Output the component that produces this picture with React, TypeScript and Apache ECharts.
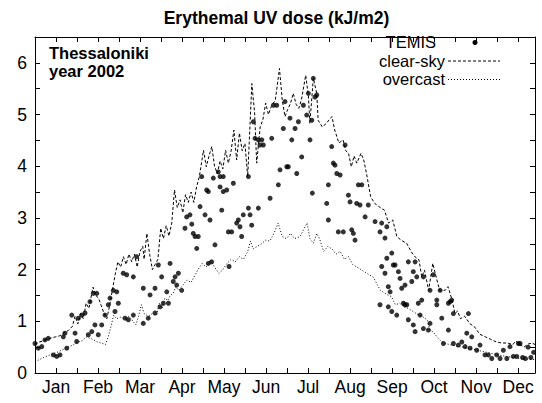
import React, { useEffect, useRef } from "react";
import * as echarts from "echarts";

// Month names used for the x-axis tick labels (shown at mid-month ticks)
const monthLabels = ["Jan", "Feb", "Mar", "Apr", "May", "Jun", "Jul", "Aug", "Sep", "Oct", "Nov", "Dec"];
// Y tick labels shown only at integers
const yTickValues = [0, 1, 2, 3, 4, 5, 6];

// [day of year, kJ/m2]
const clearSky: number[][] = [
  [0, 0.55], [3, 0.6], [6, 0.62], [9, 0.66], [12, 0.68], [15, 0.7], [18, 0.72], [21, 0.78], [24, 0.82], [27, 0.9],
  [29, 1.1], [31, 0.95], [33, 1.15], [35, 1.05], [37, 1.35], [39, 1.25], [42, 1.66], [44, 1.5], [46, 1.45], [48, 1.3],
  [50, 1.15], [52, 1.05], [54, 1.3], [56, 1.6], [58, 1.9], [60, 2.15], [62, 2.05], [64, 2.25], [66, 2.1], [68, 2.3],
  [70, 2.15], [72, 2.3], [74, 2.05], [76, 2.35], [78, 2.45], [79, 2.2], [81, 2.7], [83, 2.3], [85, 2.0], [87, 2.1],
  [89, 2.2], [91, 2.8], [93, 2.6], [95, 2.85], [97, 2.65], [99, 2.9], [101, 3.54], [103, 3.2], [105, 3.35], [107, 3.1],
  [109, 3.45], [111, 3.3], [113, 3.5], [115, 3.3], [117, 3.6], [119, 3.8], [122, 4.31], [124, 3.99], [126, 4.2], [128, 4.38],
  [130, 4.0], [132, 3.86], [134, 4.1], [136, 3.95], [138, 4.31], [140, 4.06], [142, 4.3], [144, 4.7], [146, 4.12], [148, 4.64],
  [150, 4.3], [152, 4.44], [154, 3.8], [157, 5.6], [159, 5.03], [160.5, 4.06], [163, 4.76], [165, 4.9], [167, 5.22], [169, 5.0],
  [171, 5.15], [174, 5.28], [177, 5.89], [179, 5.28], [181, 4.96], [183, 5.1], [185, 5.22], [187, 5.41], [189, 5.2], [191, 5.12],
  [193, 5.3], [196, 5.76], [198, 5.34], [199, 4.83], [201.5, 5.7], [204, 5.41], [205, 4.89], [208, 4.76], [211, 4.83], [213, 4.9],
  [215, 4.96], [217, 4.7], [220, 4.45], [223, 4.51], [225, 4.3], [227, 4.25], [229, 3.99], [231, 4.2], [233, 4.06], [236, 4.25],
  [238, 4.12], [240, 3.86], [243, 3.41], [246, 3.28], [250, 3.2], [253, 3.15], [256, 2.9], [259, 2.96], [262, 2.64], [265, 2.57],
  [269, 2.51], [273, 2.32], [275, 2.25], [278, 2.19], [280, 1.86], [282, 1.99], [285, 1.6], [288, 2.12], [291, 1.8], [293, 1.6],
  [297, 1.6], [299, 1.67], [302, 1.41], [304, 1.15], [306, 1.2], [308, 1.05], [311, 1.1], [315, 0.95], [318, 0.9], [322, 0.75],
  [326, 0.7], [330, 0.65], [334, 0.6], [338, 0.58], [342, 0.58], [346, 0.55], [348, 0.62], [351, 0.55], [354, 0.5], [357, 0.56],
  [360, 0.58], [362, 0.55],
];

const overcast: number[][] = [
  [0, 0.22], [4, 0.27], [8, 0.32], [12, 0.36], [16, 0.4], [20, 0.45], [24, 0.5], [28, 0.55], [31, 0.6], [34, 0.62],
  [37, 0.7], [39, 0.68], [42, 0.65], [45, 0.6], [48, 0.58], [51, 0.55], [53, 0.7], [55, 0.9], [57, 1.12], [59, 1.05],
  [62, 1.08], [65, 1.05], [68, 1.1], [71, 1.0], [73, 0.93], [75, 1.1], [77, 1.32], [79, 1.15], [82, 1.1], [85, 1.15],
  [88, 1.12], [90, 1.35], [92, 1.25], [94, 1.45], [96, 1.4], [98, 1.5], [100, 1.54], [102, 1.67], [104, 1.6], [107, 1.7],
  [110, 1.8], [113, 1.75], [116, 1.9], [118, 2.0], [121, 2.12], [124, 2.05], [127, 2.19], [130, 2.05], [133, 1.93], [136, 2.0],
  [139, 2.12], [142, 2.2], [145, 2.15], [148, 2.25], [151, 2.2], [154, 2.35], [156, 2.55], [158, 2.4], [161, 2.45], [164, 2.5],
  [167, 2.57], [170, 2.55], [173, 2.7], [176, 2.9], [179, 2.64], [182, 2.6], [185, 2.7], [188, 2.6], [192, 2.64], [194, 2.75],
  [197, 2.9], [199, 2.6], [201.5, 2.51], [204, 2.7], [206, 2.6], [209, 2.35], [212, 2.45], [215, 2.4], [218, 2.3], [221, 2.35],
  [224, 2.2], [227, 2.25], [230, 2.1], [233, 2.05], [236, 2.0], [239, 1.95], [242, 1.9], [245, 1.85], [248, 1.7], [250, 1.6],
  [253, 1.55], [256, 1.5], [258, 1.48], [261, 1.32], [264, 1.35], [267, 1.28], [270, 1.25], [272, 1.22], [276, 1.15], [280, 1.1],
  [284, 1.03], [286, 0.83], [288, 0.8], [291, 0.7], [294, 0.62], [296, 0.58], [300, 0.55], [305, 0.52], [310, 0.5], [317, 0.46],
  [322, 0.43], [327, 0.4], [332, 0.37], [337, 0.34], [342, 0.32], [346, 0.3], [351, 0.28], [356, 0.27], [362, 0.26],
];

const temis: number[][] = [
  [0, 0.57], [2.4, 0.48], [4.9, 0.51], [7.2, 0.64], [9.6, 0.67], [13.3, 0.35], [15.7, 0.32], [18.1, 0.35], [20.5, 0.7], [21.7, 0.77],
  [23, 0.48], [26.6, 1.12], [29, 0.77], [30.2, 0.61], [31.4, 1.06], [33.8, 1.12], [36.2, 1.16], [38.6, 0.74], [41.1, 0.8], [43.4, 0.93],
  [45.8, 0.74], [48.3, 0.93], [50.7, 1.12], [53.1, 1.32], [57.9, 1.19], [60.3, 1.35], [65.2, 1.06], [67.6, 1.03], [71.2, 1.12], [78.4, 0.96],
  [82, 1.06], [86.9, 1.16], [90.5, 1.28], [92.9, 1.35],
  [39.8, 1.38], [42.2, 1.54], [44.7, 1.54], [54.3, 1.45], [56.7, 1.6], [59.2, 1.57], [63.9, 1.93], [66.4, 1.9], [71.2, 1.86], [73.6, 2.25],
  [78.4, 1.64], [83.3, 1.51], [86.9, 1.64], [89.3, 2.09], [91.7, 1.86], [95.4, 1.57], [96.6, 1.35], [97.8, 2.12], [100.1, 1.77], [101.4, 1.86],
  [102.6, 1.7], [103.8, 1.93], [106.2, 1.6], [108.6, 2.8], [109.8, 3.02], [112.2, 3.06], [113.5, 2.88], [114.6, 2.7], [115.9, 2.64], [117.1, 2.41],
  [118.2, 2.64], [119.5, 3.22], [120.7, 3.8], [123.1, 3.06], [124.3, 3.54], [125.5, 2.12], [127.9, 2.15], [129.1, 3.77], [130.3, 2.48], [134, 3.6],
  [135.2, 3.15], [136.3, 3.51], [138.8, 3.54], [140, 2.73], [140.5, 2.06],
  [125.5, 3.51], [126.7, 2.96], [132.7, 3.89], [134, 3.8], [136.3, 3.8], [142.4, 2.73], [143.6, 3.67], [146, 2.9], [147.2, 2.96], [148.4, 2.83],
  [149.6, 2.64], [150.8, 3.06], [154.5, 3.8], [154.5, 3.19], [155.7, 3.06], [156.9, 2.86], [158.1, 4.86], [159.3, 4.54], [161.7, 4.51], [162.9, 4.41],
  [164.2, 4.51], [165.3, 4.41], [161.7, 3.19], [170.2, 3.38], [171.4, 4.54], [172.6, 5.18], [175, 5.18], [176.2, 3.64], [177.4, 3.93], [179.8, 4.73],
  [181, 5.25], [182.3, 3.99], [183.4, 3.99], [184.6, 4.93], [185.9, 4.51], [188.3, 4.73], [189.5, 3.86], [190.7, 4.86], [193.1, 4.18], [194.3, 5.18],
  [196.7, 4.99], [197.9, 5.41], [199.1, 4.51], [200.4, 4.89], [201.5, 5.7], [202.7, 5.34], [204, 5.38], [200.8, 3.48], [211.2, 3.28], [212.4, 3.64],
  [212.4, 2.96], [214.8, 4.38], [216, 4.06], [217.2, 4.02], [218.5, 3.86], [219.6, 2.73], [220.9, 3.83], [223.2, 2.73], [224.5, 4.41], [226.9, 3.44],
  [228.1, 3.31], [229.3, 2.77], [230.5, 2.7], [231.7, 2.57], [232.9, 3.28], [234.1, 3.64], [235.3, 3.25], [236.6, 3.64], [239, 3.02], [241.3, 3.25],
  [246.2, 2.93], [249.8, 2.73], [251, 2.9], [253.4, 2.61], [254.7, 2.83],
  [251, 2.06], [253.4, 1.93], [254.7, 2.22], [255.8, 1.67], [257.1, 1.57], [258.3, 2.32], [259.4, 2.09], [260.7, 2.09], [263.1, 1.96], [264.3, 1.83],
  [265.5, 1.64], [266.7, 1.35], [267.9, 1.7], [269.2, 1.32], [270.3, 2.15], [272.8, 1.77], [273.9, 1.96], [275.2, 2.15], [276.4, 1.86], [277.5, 1.35],
  [280, 1.41], [281.2, 1.86], [286, 1.6], [288.4, 1.9], [290.9, 1.41], [293.3, 1.6], [299.3, 1.35], [300.5, 1.38], [301.7, 1.41], [302.9, 1.15],
  [313.8, 1.15],
  [249.8, 1.32], [255.8, 1.28], [258.3, 1.19], [261.9, 1.12], [267.9, 1.32], [270.3, 1.03], [273.9, 0.93], [275.2, 0.8], [278.8, 1.12], [281.2, 0.86],
  [284.8, 0.83], [286, 0.96], [290.9, 1.32], [294.5, 1.06], [295.7, 0.57], [299.3, 0.83], [302.9, 0.57], [306.5, 0.54], [309, 0.6], [311.4, 0.51],
  [312.6, 0.77], [315, 0.48], [316.2, 0.7], [319.8, 0.44], [322.2, 0.54], [325.8, 0.35], [328.2, 0.35], [330.7, 0.28], [334.3, 0.35], [336.7, 0.28],
  [339.1, 0.44], [341.6, 0.28], [343.9, 0.51], [346.3, 0.32], [348.8, 0.32], [350, 0.57], [351.2, 0.57], [353, 0.3], [355, 0.28], [357, 0.5],
  [359, 0.3], [361, 0.4],
];

const FONT = "'Liberation Sans', Arial, Helvetica, sans-serif";
const X_MAX = 362;
const X_STEP = 365 / 24;

function xLabel(v: number): string {
  const k = Math.round(v / X_STEP);
  if (Math.abs(v - k * X_STEP) > 0.01) return "";
  if (k % 2 !== 1) return "";
  return monthLabels[(k - 1) / 2] ?? "";
}

function yLabel(v: number): string {
  const r = Math.round(v);
  return Math.abs(v - r) < 1e-6 && yTickValues.includes(r) ? String(r) : "";
}

function txt(text: string, x: number, y: number, align: string, bold: boolean, size: number) {
  return {
    type: "text", x, y,
    style: { text, fill: "#000", fontSize: size, fontWeight: bold ? "bold" : "normal", fontFamily: FONT, align, verticalAlign: "middle" },
  };
}

export default function App() {
  const ref = useRef<HTMLDivElement>(null);
  useEffect(() => {
    if (!ref.current) return;
    const chart = echarts.init(ref.current, undefined, { renderer: "svg" });
    const axisLine = { show: true, onZero: false, lineStyle: { color: "#000", width: 1 } };
    const axisTick = { show: true, inside: true, length: 5, lineStyle: { color: "#000", width: 1 } };
    const xBase = { type: "value", min: 0, max: X_MAX, interval: X_STEP, axisLine, axisTick, splitLine: { show: false } };
    const yBase = { type: "value", min: 0, max: 6.5, interval: 0.5, axisLine, axisTick, splitLine: { show: false } };
    chart.setOption({
      animation: false,
      backgroundColor: "#fff",
      grid: { left: 35, right: 7, top: 37, bottom: 30, containLabel: false },
      xAxis: [
        { ...xBase, position: "bottom", axisLabel: { formatter: xLabel, color: "#000", fontSize: 17.5, fontFamily: FONT, margin: 5 } },
        { ...xBase, position: "top", axisLabel: { show: false } },
      ],
      yAxis: [
        { ...yBase, position: "left", axisLabel: { formatter: yLabel, color: "#000", fontSize: 17.5, fontFamily: FONT, margin: 8 } },
        { ...yBase, position: "right", axisLabel: { show: false } },
      ],
      series: [
        {
          name: "clear-sky", type: "line", data: clearSky, symbol: "none", xAxisIndex: 0, yAxisIndex: 0,
          lineStyle: { color: "#000", width: 1, type: [3, 2] },
        },
        {
          name: "overcast", type: "line", data: overcast, symbol: "none", xAxisIndex: 0, yAxisIndex: 0,
          lineStyle: { color: "#000", width: 1, type: [1, 2] },
        },
        {
          name: "TEMIS", type: "scatter", data: temis, symbol: "circle", symbolSize: 5, xAxisIndex: 0, yAxisIndex: 0,
          itemStyle: { color: "#000" },
        },
      ],
      graphic: [
        txt("Erythemal UV dose (kJ/m2)", 276.5, 18, "center", true, 17.5),
        txt("Thessaloniki", 49, 52.5, "left", true, 16.5),
        txt("year 2002", 49, 71, "left", true, 16.5),
        txt("TEMIS", 436, 42, "right", false, 16.5),
        { type: "circle", shape: { cx: 475, cy: 42.5, r: 2.5 }, style: { fill: "#000" } },
        txt("clear-sky", 445, 60.5, "right", false, 16.5),
        { type: "line", shape: { x1: 448, y1: 61, x2: 500, y2: 61 }, style: { stroke: "#000", lineWidth: 1, lineDash: [3, 2] } },
        txt("overcast", 445, 79, "right", false, 16.5),
        { type: "line", shape: { x1: 448, y1: 79.5, x2: 500, y2: 79.5 }, style: { stroke: "#000", lineWidth: 1, lineDash: [1, 2] } },
      ],
    });
    return () => chart.dispose();
  }, []);
  return <div ref={ref} style={{ position: "fixed", left: 0, top: 0, width: 542, height: 403, background: "#fff" }} />;
}
